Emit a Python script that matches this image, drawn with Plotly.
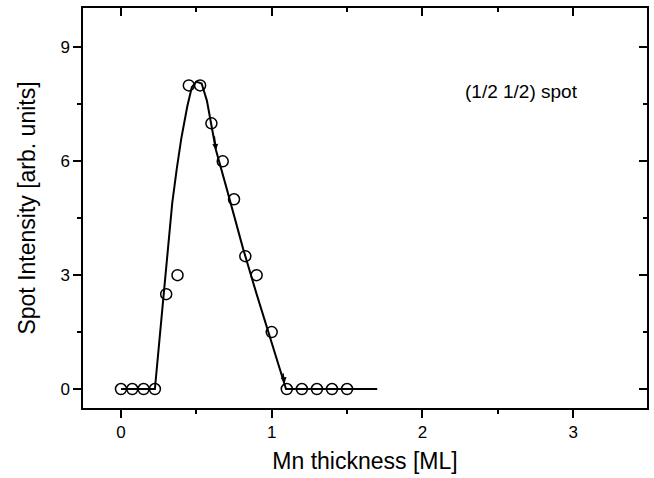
import plotly.graph_objects as go

# measured data
thickness = [0, 0.075, 0.15, 0.225, 0.3, 0.375, 0.45, 0.525, 0.6, 0.675,
             0.75, 0.825, 0.9, 1.0, 1.1, 1.2, 1.3, 1.4, 1.5]
intensity = [0, 0, 0, 0, 2.5, 3.0, 8.0, 8.0, 7.0, 6.0,
             5.0, 3.5, 3.0, 1.5, 0, 0, 0, 0, 0]

# guide line through data
line_x = [0, 0.225, 0.26, 0.30, 0.34, 0.37, 0.40, 0.44, 0.47, 0.50, 0.535,
          0.57, 0.60, 0.63, 0.70, 0.81, 0.90, 1.0, 1.095, 1.7]
line_y = [0, 0, 1.5, 3.2, 4.9, 5.8, 6.6, 7.45, 7.95, 8.1, 8.05,
          7.6, 7.0, 6.3, 5.3, 3.7, 2.5, 1.2, 0, 0]

x_ticks = [0, 1, 2, 3]
y_ticks = [0, 3, 6, 9]

FONT = "Liberation Sans, Arial, sans-serif"

fig = go.Figure()
fig.add_trace(go.Scatter(x=line_x, y=line_y, mode="lines",
                         line=dict(color="black", width=2), showlegend=False))
fig.add_trace(go.Scatter(x=thickness, y=intensity, mode="markers",
                         marker=dict(symbol="circle-open", size=11,
                                     color="black", line=dict(width=1.5)),
                         showlegend=False))
# dummy trace for mirrored inner ticks
fig.add_trace(go.Scatter(x=[0], y=[0], xaxis="x2", yaxis="y2", mode="markers",
                         marker=dict(opacity=0), showlegend=False, hoverinfo="skip"))

# small arrowheads on the line
for (xh, yh, ax, ay) in [(0.63, 6.3, 0.618, 6.7), (1.085, 0.15, 1.073, 0.45)]:
    fig.add_annotation(x=xh, y=yh, ax=ax, ay=ay, xref="x", yref="y",
                       axref="x", ayref="y", text="", showarrow=True,
                       arrowhead=2, arrowsize=0.8, arrowwidth=1.5,
                       arrowcolor="black")

fig.add_annotation(x=2.27, y=7.84, xref="x", yref="y", text="(1/2 1/2) spot",
                   showarrow=False, xanchor="left",
                   font=dict(family=FONT, size=19, color="black"))

xr = [-0.252, 3.49]
yr = [-0.5, 10.04]

fig.update_layout(
    width=654, height=478,
    margin=dict(l=83, r=7, t=8, b=70),
    paper_bgcolor="white", plot_bgcolor="white",
    font=dict(family=FONT, color="black"),
    xaxis=dict(range=xr, tickvals=x_ticks, ticks="outside", ticklen=8,
               tickwidth=1.5, tickcolor="black", showgrid=False, zeroline=False,
               showline=True, linecolor="black", linewidth=1.5, mirror=True,
               automargin=False, tickfont=dict(size=17, family=FONT),
               minor=dict(dtick=0.5, tick0=0, ticks="outside", ticklen=4,
                          tickwidth=1.5, tickcolor="black", showgrid=False),
               title=dict(text="Mn thickness [ML]", font=dict(size=23, family=FONT),
                          standoff=12)),
    yaxis=dict(range=yr, tickvals=y_ticks, ticks="outside", ticklen=8,
               tickwidth=1.5, tickcolor="black", showgrid=False, zeroline=False,
               showline=True, linecolor="black", linewidth=1.5, mirror=True,
               automargin=False, tickfont=dict(size=17, family=FONT),
               minor=dict(dtick=1.5, tick0=0, ticks="outside", ticklen=4,
                          tickwidth=1.5, tickcolor="black", showgrid=False),
               title=dict(text="Spot Intensity [arb. units]",
                          font=dict(size=23, family=FONT), standoff=18)),
    xaxis2=dict(range=xr, overlaying="x", side="top", tickvals=x_ticks,
                ticks="inside", ticklen=8, tickwidth=1.5, tickcolor="black",
                showticklabels=False, showgrid=False, zeroline=False,
                automargin=False,
                minor=dict(dtick=0.5, tick0=0, ticks="inside", ticklen=4,
                           tickwidth=1.5, tickcolor="black", showgrid=False)),
    yaxis2=dict(range=yr, overlaying="y", side="right", tickvals=y_ticks,
                ticks="inside", ticklen=8, tickwidth=1.5, tickcolor="black",
                showticklabels=False, showgrid=False, zeroline=False,
                automargin=False,
                minor=dict(dtick=1.5, tick0=0, ticks="inside", ticklen=4,
                           tickwidth=1.5, tickcolor="black", showgrid=False)),
)

fig.write_html(
    "out.html",
    config={"displayModeBar": False},
    post_script="document.body.style.margin='0';document.body.style.padding='0';"
                "document.body.style.overflow='hidden';",
)
